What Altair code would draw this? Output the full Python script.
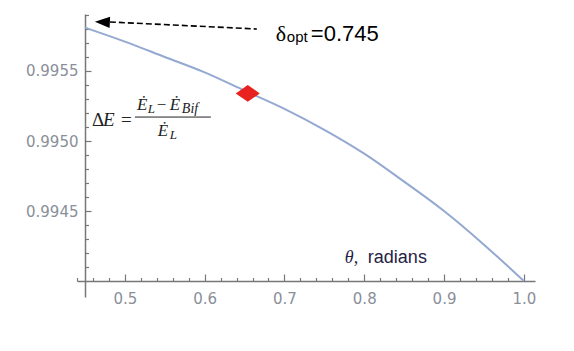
import altair as alt
import pandas as pd

# ---- data ----
theta = [0.45, 0.50, 0.55, 0.60, 0.65, 0.70, 0.75, 0.80, 0.85, 0.90, 0.95, 1.00]
delta_e = [0.99581, 0.99571, 0.99560, 0.99549, 0.99536, 0.99523, 0.99508,
           0.99491, 0.99471, 0.99450, 0.99426, 0.99400]
opt_theta = [0.654]
opt_de = [0.99534]

x_major = [0.5, 0.6, 0.7, 0.8, 0.9, 1.0]
x_minor = [0.44, 0.46, 0.48, 0.52, 0.54, 0.56, 0.58, 0.62, 0.64, 0.66, 0.68,
           0.72, 0.74, 0.76, 0.78, 0.82, 0.84, 0.86, 0.88, 0.92, 0.94, 0.96, 0.98]
y_major = [0.9945, 0.9950, 0.9955]
y_minor = [0.9941, 0.9942, 0.9943, 0.9944, 0.9946, 0.9947, 0.9948, 0.9949,
           0.9951, 0.9952, 0.9953, 0.9954, 0.9956, 0.9957, 0.9958, 0.9959]
x_domain = [0.44, 1.014]
y_domain = [0.993886, 0.995907]

# annotation anchors (data coordinates)
arrow_x = [0.4812]
arrow_y = [0.99585]
arrow_x2 = [0.6654]
arrow_y2 = [0.99580]
head_x = [0.4718]
head_y = [0.99585]

W, H = 458, 283
AX = "#777777"
LBL = "#8a8f99"

xs = alt.Scale(domain=x_domain, nice=False, zero=False)
ys = alt.Scale(domain=y_domain, nice=False, zero=False)

curve = pd.DataFrame({"theta": theta, "dE": delta_e})

line = alt.Chart(curve).mark_line(color="#94a9d1", strokeWidth=2, interpolate="monotone").encode(
    x=alt.X("theta:Q", scale=xs,
            axis=alt.Axis(orient="bottom", offset=-16, values=x_major, format=".1f",
                          ticks=False, tickSize=0, domain=False, labelPadding=10,
                          title=None, grid=False, labelFlush=False)),
    y=alt.Y("dE:Q", scale=ys,
            axis=alt.Axis(orient="left", offset=-8, values=y_major, format=".4f",
                          ticks=False, tickSize=0, domain=False, labelPadding=7,
                          title=None, grid=False, labelFlush=False)),
)

major = alt.Chart(curve).mark_point(opacity=0).encode(
    x=alt.X("theta:Q", scale=xs,
            axis=alt.Axis(orient="top", offset=-267, values=x_major, labels=False,
                          tickSize=7, domain=True, title=None, grid=False)),
    y=alt.Y("dE:Q", scale=ys,
            axis=alt.Axis(orient="right", offset=-450, values=y_major, labels=False,
                          tickSize=6, domain=True, title=None, grid=False)),
)

minor = alt.Chart(curve).mark_point(opacity=0).encode(
    x=alt.X("theta:Q", scale=xs,
            axis=alt.Axis(orient="top", offset=-267, values=x_minor, labels=False,
                          tickSize=3.5, domain=False, title=None, grid=False)),
    y=alt.Y("dE:Q", scale=ys,
            axis=alt.Axis(orient="right", offset=-450, values=y_minor, labels=False,
                          tickSize=3.5, domain=False, title=None, grid=False)),
)

marker = alt.Chart(pd.DataFrame({"theta": opt_theta, "dE": opt_de})).mark_point(
    shape="M-1,0L0,-0.7L1,0L0,0.7Z", size=576, filled=True, color="#e8221f", opacity=1
).encode(
    x=alt.X("theta:Q", scale=xs, axis=None),
    y=alt.Y("dE:Q", scale=ys, axis=None),
)

arrow_line = alt.Chart(pd.DataFrame({"x": arrow_x, "y": arrow_y, "x2": arrow_x2, "y2": arrow_y2})).mark_rule(
    color="black", strokeWidth=1.6, strokeDash=[6, 3]
).encode(
    x=alt.X("x:Q", scale=xs, axis=None), y=alt.Y("y:Q", scale=ys, axis=None),
    x2="x2:Q", y2="y2:Q",
)

arrow_head = alt.Chart(pd.DataFrame({"x": head_x, "y": head_y})).mark_point(
    shape="M-1,0L1,-0.75L1,0.75Z", size=225, filled=True, color="black", opacity=1, angle=2.7
).encode(
    x=alt.X("x:Q", scale=xs, axis=None), y=alt.Y("y:Q", scale=ys, axis=None),
)


def txt(xv, yv, s, **kw):
    return alt.Chart(pd.DataFrame({"x": [xv], "y": [yv], "t": [s]})).mark_text(
        align="left", baseline="alphabetic", **kw
    ).encode(
        x=alt.X("x:Q", scale=xs, axis=None), y=alt.Y("y:Q", scale=ys, axis=None),
        text="t:N",
    )


SERIF = "Liberation Serif"
SANS = "Liberation Sans"
texts = [
    # delta_opt label
    txt(0.68922, 0.995714, "δ", font=SERIF, fontSize=22, color="black"),
    txt(0.70301, 0.995706, "opt", font=SANS, fontSize=15, color="black"),
    txt(0.73308, 0.995714, "=0.745", font=SANS, fontSize=22, color="black"),
    # axis title
    txt(0.77569, 0.994129, "θ,", font=SERIF, fontSize=18, fontStyle="italic", color="#1f2345"),
    txt(0.80451, 0.994129, "radians", font=SANS, fontSize=18, color="#1f2345"),
    # equation
    txt(0.45865, 0.995107, "Δ", font=SERIF, fontSize=19, color="#222222"),
    txt(0.47243, 0.995107, "E", font=SERIF, fontSize=19, fontStyle="italic", color="#222222"),
    txt(0.49499, 0.995107, "=", font=SERIF, fontSize=19, color="#222222"),
    txt(0.51504, 0.995221, "Ė", font=SERIF, fontSize=17, fontStyle="italic", color="#222222"),
    txt(0.52882, 0.995200, "L", font=SERIF, fontSize=13, fontStyle="italic", color="#222222"),
    txt(0.54010, 0.995221, "−", font=SERIF, fontSize=17, color="#222222"),
    txt(0.55639, 0.995221, "Ė", font=SERIF, fontSize=17, fontStyle="italic", color="#222222"),
    txt(0.57143, 0.995200, "Bif", font=SERIF, fontSize=14, fontStyle="italic", color="#222222"),
    txt(0.54135, 0.995036, "Ė", font=SERIF, fontSize=17, fontStyle="italic", color="#222222"),
    txt(0.55639, 0.995014, "L", font=SERIF, fontSize=13, fontStyle="italic", color="#222222"),
]

frac = alt.Chart(pd.DataFrame({"x": [0.51253], "x2": [0.60777], "y": [0.995171]})).mark_rule(
    color="#222222", strokeWidth=1
).encode(
    x=alt.X("x:Q", scale=xs, axis=None), x2="x2:Q", y=alt.Y("y:Q", scale=ys, axis=None),
)

chart = alt.layer(
    major, minor, line, marker, arrow_line, arrow_head, frac, *texts
).resolve_axis(x="independent", y="independent").properties(
    width=W, height=H,
    autosize=alt.AutoSizeParams(type="none"),
    padding={"left": 69, "top": 6, "right": 31, "bottom": 46},
    background="white",
).configure_view(stroke=None).configure_axis(
    labelFont="DejaVu Sans", labelFontSize=15, labelColor=LBL,
    domainColor=AX, tickColor=AX, domainWidth=1.5, tickWidth=1.2,
)

chart.save("out.html", embed_options={"renderer": "svg", "actions": False})
